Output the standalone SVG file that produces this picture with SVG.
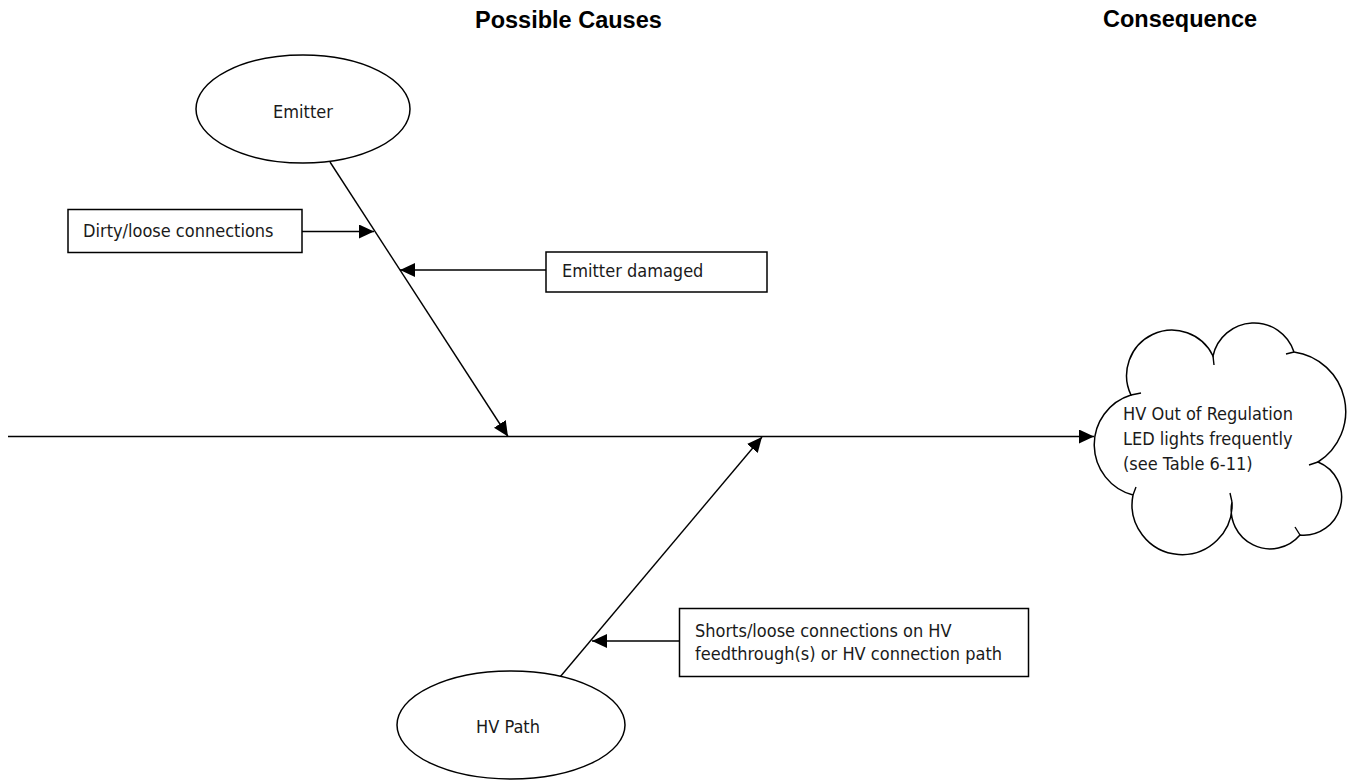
<svg xmlns="http://www.w3.org/2000/svg" width="1349" height="780" viewBox="0 0 1349 780">
<style>
.hdr{font-family:"Liberation Sans",Arial,sans-serif;font-weight:bold;font-size:23.5px;fill:#000}
.t{font-family:"DejaVu Sans Condensed","DejaVu Sans",sans-serif;font-stretch:condensed;font-size:18px;fill:#1a1a1a}
.shape{fill:#fff;stroke:#000;stroke-width:1.5}
.ln{fill:none;stroke:#000;stroke-width:1.4}
</style>
<defs>
<marker id="ah" markerUnits="userSpaceOnUse" markerWidth="16" markerHeight="14" refX="15" refY="7" orient="auto">
<path d="M0,0 L15,7 L0,14 z" fill="#000"/>
</marker>
</defs>
<rect width="1349" height="780" fill="#fff"/>
<text class="hdr" x="475" y="28">Possible Causes</text>
<text class="hdr" x="1103" y="27">Consequence</text>
<g id="connectors">
<line class="ln" x1="8" y1="436.5" x2="1094" y2="436.5" stroke-width="2" marker-end="url(#ah)"/>
<line class="ln" x1="330" y1="162" x2="508" y2="436.5" marker-end="url(#ah)"/>
<line class="ln" x1="560" y1="677" x2="762" y2="437" marker-end="url(#ah)"/>
<line class="ln" x1="302" y1="231.5" x2="374" y2="231.5" marker-end="url(#ah)"/>
<line class="ln" x1="546" y1="270" x2="400" y2="270" marker-end="url(#ah)"/>
<line class="ln" x1="679.5" y1="641" x2="592" y2="641" marker-end="url(#ah)"/>
</g>
<g id="emitter">
<ellipse class="shape" cx="303" cy="109" rx="107" ry="54"/>
<text class="t" x="303" y="118" text-anchor="middle">Emitter</text>
</g>
<g id="hvpath">
<ellipse class="shape" cx="511" cy="725" rx="114" ry="54"/>
<text class="t" x="508" y="733" text-anchor="middle" font-size="19">HV Path</text>
</g>
<g id="dirty">
<rect class="shape" x="68" y="209.5" width="234" height="43"/>
<text class="t" x="83" y="237">Dirty/loose connections</text>
</g>
<g id="damaged">
<rect class="shape" x="546" y="252" width="221" height="40"/>
<text class="t" x="562" y="277">Emitter damaged</text>
</g>
<g id="shorts">
<rect class="shape" x="679.5" y="608.5" width="349" height="68"/>
<text class="t" x="695" y="637">Shorts/loose connections on HV</text>
<text class="t" x="695" y="659.5">feedthrough(s) or HV connection path</text>
</g>
<g id="consequence">
<path class="shape" d="M1131,395 A45,45 0 0 1 1213,356 A42,42 0 0 1 1294,352 A60,60 0 0 1 1318,462 A38,38 0 0 1 1300,535 A39,39 0 0 1 1232,502 A50,50 0 1 1 1133,495 A52,52 0 0 1 1131,395 z"/>
<path class="ln" d="M1131,395 l10,-2 M1213,356 l1,9 M1294,352 l-8,2 M1318,462 l-9,3 M1300,535 l-5,-8 M1232,502 l-2,-9 M1133,495 l3,-8"/>
<text class="t" x="1123" y="420" font-size="19.5">HV Out of Regulation</text>
<text class="t" x="1123" y="445" font-size="19.5">LED lights frequently</text>
<text class="t" x="1123" y="470" font-size="19.5">(see Table 6-11)</text>
</g>
</svg>
